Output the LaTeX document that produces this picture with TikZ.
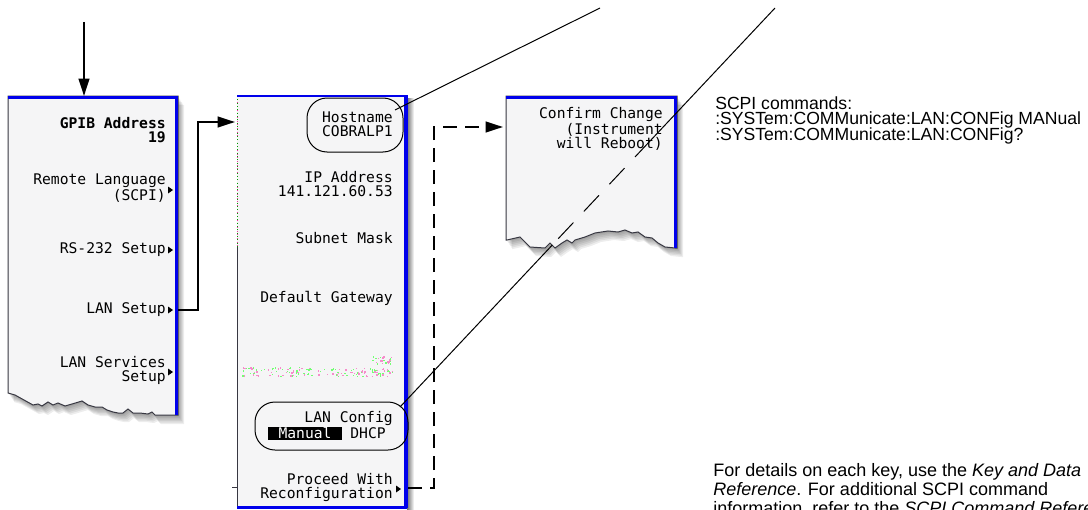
\documentclass[tikz,border=0pt]{standalone}
\usepackage{fontspec}
\setmainfont{Liberation Sans}
\newfontfamily\keyfont{DejaVu Sans Mono}
\usetikzlibrary{arrows.meta}
\definecolor{kblue}{RGB}{0,0,235}
\definecolor{pfill}{RGB}{245,245,246}
\definecolor{pedge}{RGB}{55,55,65}
\tikzset{
  key/.style={font=\keyfont\fontsize{11}{10.5}\selectfont, align=right, inner sep=0pt, anchor=east},
  keyb/.style={key, font=\keyfont\bfseries\fontsize{11}{10.5}\selectfont},
  oval/.style={draw, line width=0.75pt, rounded corners=15pt, inner sep=0pt},
  conn/.style={line width=1.5pt, -{Triangle[length=13pt,width=8pt]}},
  dconn/.style={conn, dash pattern=on 10.5pt off 6pt},
  leader/.style={line width=0.75pt},
  note/.style={font=\fontsize{13.2}{15}\selectfont, inner sep=0pt, anchor=base west},
  subtri/.style={fill=black},
  paneledge/.style={draw=pedge, line width=0.75pt},
  blueline/.style={draw=kblue, line width=1.6pt},
  bluethick/.style={draw=kblue, line width=2.3pt}
}
\def\pone{(8,96) -- (178,96) -- (178,415) -- (175,415) -- (155,415) -- (152,412) -- (148,414) -- (140,413) -- (133,413) -- (128,409) -- (123,413) -- (118,413) -- (113,412) -- (107,410) -- (102,407) -- (95,407) -- (88,405) -- (82,401) -- (72,404) -- (65,406) -- (58,403) -- (53,405) -- (48,402) -- (42,406) -- (38,404) -- (33,405) -- (15,395) -- (8,393) -- cycle}
\def\pthree{(506,96) -- (677,96) -- (677,248) -- (675,248) -- (665,247) -- (658,243) -- (652,238) -- (645,237) -- (638,232) -- (632,233) -- (625,230) -- (618,232) -- (608,231) -- (595,233) -- (585,237) -- (575,240) -- (572,243) -- (567,240) -- (562,243) -- (555,248) -- (550,243) -- (545,248) -- (530,247) -- (520,237) -- (507,240) -- (506,240) -- cycle}
\newcommand{\subtri}[2]{\fill[subtri] (#1,#2-3.5) -- (#1+5,#2) -- (#1,#2+3.5) -- cycle;}
\begin{document}
\begin{tikzpicture}[x=0.75pt,y=-0.75pt]
\useasboundingbox (0,0) rectangle (1088,510);
\fill[white] (0,0) rectangle (1088,510);

% ---------- panel 1 ----------
\foreach \dx/\dy in {1/1.5,2/3,3/4.5,4/6,5/7.5,6/9} {\fill[black,opacity=0.07,shift={(\dx,\dy)}] \pone;}
\fill[pfill] \pone;
\draw[paneledge] \pone;
\draw[blueline] (8,97.5) -- (178,97.5);
\draw[bluethick] (176.5,97) -- (176.5,415);

% ---------- panel 2 ----------
\shade[left color=black!55, right color=white] (407,98) rectangle (414,510);
\fill[pfill] (237,95) rectangle (407,508);
\draw[pedge, line width=0.75pt] (237,247) -- (237,508);
\draw[magenta!80, dotted, line width=0.75pt] (237,95) -- (237,247);
\draw[green!60!black, dotted, line width=0.5pt] (237.6,96) -- (237.6,247);
\draw[pedge, line width=0.75pt] (232,487) -- (237,487);
\draw[blueline] (237,96) -- (407,96);
\draw[blueline] (237,507.5) -- (407,507.5);
\draw[bluethick] (406,95) -- (406,508);

% greyed-out entry
\pgfmathsetseed{4711}
\foreach \i in {1,...,75} {
  \pgfmathsetmacro{\xx}{242+150*rnd}\pgfmathsetmacro{\yy}{367+9*rnd}
  \fill[magenta!45] (\xx,\yy) rectangle ++(1.4,1.4);
  \pgfmathsetmacro{\xx}{242+150*rnd}\pgfmathsetmacro{\yy}{367+9*rnd}
  \fill[green!55] (\xx,\yy) rectangle ++(1.4,1.4);
}
\foreach \i in {1,...,12} {
  \pgfmathsetmacro{\xx}{372+20*rnd}\pgfmathsetmacro{\yy}{356+8*rnd}
  \fill[magenta!45] (\xx,\yy) rectangle ++(1.4,1.4);
  \pgfmathsetmacro{\xx}{372+20*rnd}\pgfmathsetmacro{\yy}{356+8*rnd}
  \fill[green!55] (\xx,\yy) rectangle ++(1.4,1.4);
}

% ---------- panel 3 ----------
\foreach \dx/\dy in {1/1.5,2/3,3/4.5,4/6,5/7.5,6/9} {\fill[black,opacity=0.07,shift={(\dx,\dy)}] \pthree;}
\fill[pfill] \pthree;
\draw[paneledge] \pthree;
\draw[blueline] (506,97.5) -- (677,97.5);
\draw[bluethick] (675.5,97) -- (675.5,248);

% ---------- panel 1 keys ----------
\node[keyb] (gpib) at (166,130) {GPIB Address\\19};
\node[key] (remlang) at (166,188) {Remote Language\\(SCPI)};
\node[key] (rs232) at (166,250) {RS-232 Setup};
\node[key] (lansetup) at (166,310) {LAN Setup};
\node[key] (lanserv) at (166,370) {LAN Services\\Setup};
\subtri{168}{190}
\subtri{168}{250}
\subtri{168}{310}
\subtri{168}{372}

% ---------- panel 2 keys ----------
\node[key] (host) at (393,124) {Hostname\\COBRALP1};
\node[key] (ip) at (393,184) {IP Address\\141.121.60.53};
\node[key] (subnet) at (393,238) {Subnet Mask};
\node[key] (gw) at (393,298) {Default Gateway};
\node[key] (lancfg) at (393,418) {LAN Config};
\node[fill=black, text=white, inner sep=0pt, minimum width=55.5pt, minimum height=9.75pt,
      font=\keyfont\fontsize{11}{10.5}\selectfont] (manual) at (305,433) {Manual};
\node[key] (dhcp) at (386,433) {DHCP};
\node[key] (proceed) at (393,487) {Proceed With\\Reconfiguration};
\subtri{396}{489}
\node[oval, minimum width=72pt, minimum height=40.5pt] (hostov) at (355,125) {};
\node[oval, minimum width=114.75pt, minimum height=36pt] (cfgov) at (331.5,426) {};

% ---------- panel 3 key ----------
\node[key] (confirm) at (663,129) {Confirm Change\\(Instrument\\will Reboot)};

% ---------- notes ----------
\node[note] (scpi1) at (715,109) {SCPI commands:};
\node[note] (scpi2) at (715,124.5) {:SYSTem:COMMunicate:LAN:CONFig MANual};
\node[note] (scpi3) at (715,140) {:SYSTem:COMMunicate:LAN:CONFig?};
\node[note, font=\fontsize{13.5}{15}\selectfont] (b1) at (713,476) {For details on each key, use the \textit{Key and Data}};
\node[note, font=\fontsize{13.5}{15}\selectfont] (b2) at (713,495) {\textit{Reference}. For additional SCPI command};
\node[note, font=\fontsize{13.5}{15}\selectfont] (b3) at (713,514) {information, refer to the \textit{SCPI Command Reference}.};

% ---------- connectors ----------
\coordinate (topin) at (84,22);
\coordinate (p1top) at (84,96);
\draw[conn] (topin) -- (p1top);
\coordinate (p1lan) at (178,310);
\coordinate (p2in) at (235,122);
\draw[conn] (p1lan) -- (198,310) |- (p2in);
\coordinate (p2proc) at (408,488);
\coordinate (p3in) at (503,127);
\draw[dconn] (p2proc) -- (434,488) |- (p3in);

% ---------- leader lines ----------
\coordinate (h1) at (395,110);
\coordinate (la) at (600,8);
\draw[leader] (h1) -- (la);
\coordinate (lb0) at (775,8);
\coordinate (lb1) at (677,112.3);
\coordinate (lb2) at (552.3,245);
\coordinate (lcfg) at (400,407);
\draw[leader] (lb0) -- (lb1);
\draw[leader, dash pattern=on 46pt off 11.5pt on 16.5pt off 11.5pt on 16.5pt off 11.5pt on 16.5pt off 60pt] (lb1) -- (lb2);
\draw[leader] (lb2) -- (lcfg);
\end{tikzpicture}
\end{document}
